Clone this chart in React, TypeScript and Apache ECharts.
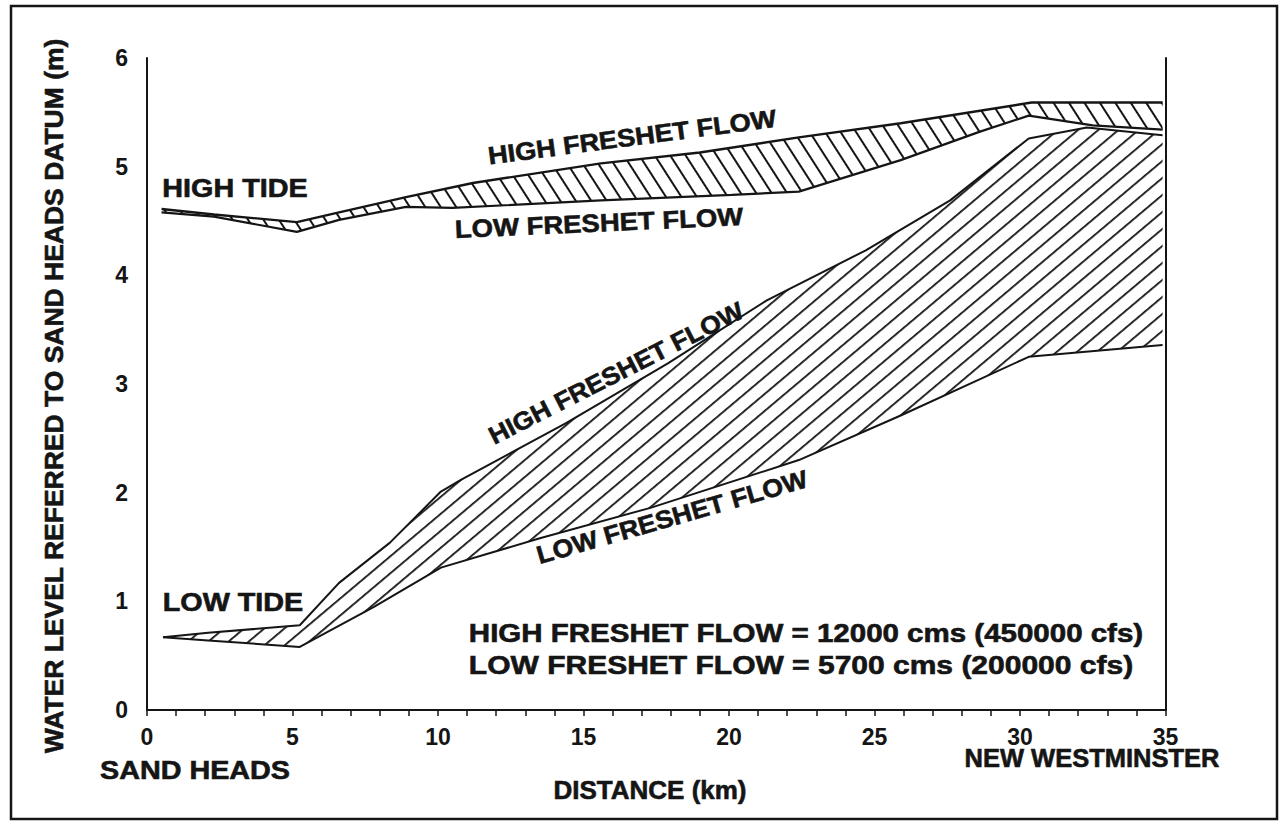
import React, { useEffect, useRef } from 'react';
import * as echarts from 'echarts';

// Distance (km) and water level (m)
const highTideHighFreshetKm = [0.5, 2.3, 5.15, 6.6, 8.9, 11.2, 15.6, 19.0, 22.4, 25.9, 30.4, 34.9];
const highTideHighFreshetM = [4.61, 4.56, 4.49, 4.58, 4.72, 4.85, 5.03, 5.13, 5.27, 5.4, 5.59, 5.59];

const highTideLowFreshetKm = [0.5, 2.3, 5.15, 6.6, 8.9, 10.5, 15.6, 20.1, 22.4, 25.9, 28.6, 30.3, 32.5, 34.9];
const highTideLowFreshetM = [4.58, 4.54, 4.4, 4.51, 4.63, 4.62, 4.69, 4.74, 4.77, 5.06, 5.32, 5.47, 5.38, 5.34];

const lowTideHighFreshetKm = [0.55, 2.1, 5.25, 6.6, 8.35, 10.1, 10.8, 14.4, 17.9, 21.3, 24.7, 27.6, 30.3, 32.3, 34.9];
const lowTideHighFreshetM = [0.67, 0.71, 0.78, 1.17, 1.54, 2.01, 2.12, 2.64, 3.19, 3.77, 4.23, 4.69, 5.26, 5.36, 5.29];

const lowTideLowFreshetKm = [0.55, 2.1, 5.25, 7.8, 10.1, 13.5, 17.3, 22.4, 25.9, 30.3, 34.9];
const lowTideLowFreshetM = [0.67, 0.64, 0.58, 0.95, 1.31, 1.58, 1.86, 2.3, 2.71, 3.25, 3.36];

const xAxisMin = 0;
const xAxisMax = 35;
const xAxisStep = 5;
const yAxisMin = 0;
const yAxisMax = 6;
const yAxisStep = 1;

const yAxisTitle = 'WATER LEVEL REFERRED TO SAND HEADS DATUM (m)';
const xAxisTitle = 'DISTANCE (km)';
const notes = [
  'HIGH FRESHET FLOW = 12000 cms (450000 cfs)',
  'LOW FRESHET FLOW = 5700 cms (200000 cfs)',
];

const INK = '#151515';
const FONT = '"Liberation Sans", Arial, Helvetica, sans-serif';

function pairs(xs: number[], ys: number[]) {
  return xs.map((x, i) => [x, ys[i]]);
}

function stripePattern(thick: number, period: number, rotation: number) {
  const w = 8;
  const canvas = document.createElement('canvas');
  canvas.width = w;
  canvas.height = period;
  const ctx = canvas.getContext('2d')!;
  ctx.clearRect(0, 0, w, period);
  ctx.fillStyle = INK;
  ctx.fillRect(0, 0, w, thick);
  return {
    image: canvas,
    repeat: 'repeat',
    imageWidth: w,
    imageHeight: period,
    rotation,
  };
}

function bandSeries(
  upX: number[],
  upY: number[],
  loX: number[],
  loY: number[],
  pattern: any
) {
  return {
    type: 'custom',
    coordinateSystem: 'cartesian2d',
    data: [[upX[0], upY[0]]],
    silent: true,
    z: 2,
    renderItem: (_params: any, api: any) => {
      const top = upX.map((x, i) => api.coord([x, upY[i]]));
      const bottom = loX.map((x, i) => api.coord([x, loY[i]])).reverse();
      return {
        type: 'polygon',
        shape: { points: top.concat(bottom) },
        style: { fill: pattern, stroke: null },
      };
    },
  };
}

function lineSeries(xs: number[], ys: number[], width: number) {
  return {
    type: 'line',
    data: pairs(xs, ys),
    symbol: 'none',
    silent: true,
    z: 4,
    lineStyle: { color: INK, width },
  };
}

function txt(text: string, x: number, y: number, size: number, rotDeg: number, sx: number) {
  return {
    type: 'text',
    x,
    y,
    rotation: (rotDeg * Math.PI) / 180,
    scaleX: sx,
    z: 20,
    silent: true,
    style: {
      text,
      font: `bold ${size}px ${FONT}`,
      fill: INK,
      stroke: INK,
      lineWidth: 0.6,
      align: 'center',
      verticalAlign: 'middle',
    },
  };
}

export default function App() {
  const ref = useRef<HTMLDivElement>(null);

  useEffect(() => {
    if (!ref.current) return;
    const chart = echarts.init(ref.current, null, { renderer: 'svg' });
    const upperHatch = stripePattern(2, 13, 1.0);
    const lowerHatch = stripePattern(1.8, 13, -0.7);

    const option: any = {
      animation: false,
      backgroundColor: '#ffffff',
      grid: { left: 147, right: 115.5, top: 58, bottom: 121 },
      xAxis: {
        type: 'value',
        min: xAxisMin,
        max: xAxisMax,
        interval: xAxisStep,
        z: 10,
        axisLine: { show: true, onZero: false, lineStyle: { color: INK, width: 2 } },
        axisTick: { show: true, length: 6, lineStyle: { color: INK, width: 1.5 } },
        minorTick: { show: true, splitNumber: 5, length: 6, lineStyle: { color: INK, width: 1.5 } },
        splitLine: { show: false },
        axisLabel: { fontSize: 23, fontWeight: 'bold', color: INK, fontFamily: FONT, margin: 15 },
      },
      yAxis: [
        {
          type: 'value',
          min: yAxisMin,
          max: yAxisMax,
          interval: yAxisStep,
          z: 10,
          axisLine: { show: true, lineStyle: { color: INK, width: 2 } },
          axisTick: { show: false },
          splitLine: { show: false },
          axisLabel: {
            fontSize: 23,
            fontWeight: 'bold',
            color: INK,
            fontFamily: FONT,
            margin: 19,
            padding: [0, 0, 16, 0],
          },
        },
        {
          type: 'value',
          min: yAxisMin,
          max: yAxisMax,
          interval: yAxisStep,
          position: 'right',
          z: 10,
          axisLine: { show: true, lineStyle: { color: INK, width: 2 } },
          axisTick: { show: false },
          splitLine: { show: false },
          axisLabel: { show: false },
        },
      ],
      series: [
        bandSeries(highTideHighFreshetKm, highTideHighFreshetM, highTideLowFreshetKm, highTideLowFreshetM, upperHatch),
        bandSeries(lowTideHighFreshetKm, lowTideHighFreshetM, lowTideLowFreshetKm, lowTideLowFreshetM, lowerHatch),
        lineSeries(highTideHighFreshetKm, highTideHighFreshetM, 2.4),
        lineSeries(highTideLowFreshetKm, highTideLowFreshetM, 2.2),
        lineSeries(lowTideHighFreshetKm, lowTideHighFreshetM, 2),
        lineSeries(lowTideLowFreshetKm, lowTideLowFreshetM, 2),
      ],
      graphic: [
        {
          type: 'rect',
          z: 1,
          silent: true,
          shape: { x: 11, y: 6, width: 1266, height: 813 },
          style: { fill: 'none', stroke: INK, lineWidth: 2.5 },
        },
        txt(yAxisTitle, 54, 396, 25, 90, 1.06),
        txt(xAxisTitle, 650, 790, 25, 0, 1.04),
        txt('SAND HEADS', 195, 771, 25, 0, 1.15),
        txt('NEW WESTMINSTER', 1092, 758, 25, 0, 1.02),
        txt('HIGH TIDE', 235, 189, 25, 0, 1.15),
        txt('LOW TIDE', 233, 603, 25, 0, 1.15),
        txt('HIGH FRESHET FLOW', 632, 137, 25, 7.5, 1.09),
        txt('LOW FRESHET FLOW', 599, 223, 25, 2.6, 1.1),
        txt('HIGH FRESHET FLOW', 616, 373, 25, 27, 1.06),
        txt('LOW FRESHET FLOW', 672, 517, 25, 16, 1.07),
        txt(notes[0], 806, 633, 25, 0, 1.18),
        txt(notes[1], 801, 665, 25, 0, 1.2),
      ],
    };
    chart.setOption(option);
    return () => chart.dispose();
  }, []);

  return (
    <div
      ref={ref}
      style={{ position: 'fixed', left: 0, top: 0, width: 1281, height: 831, background: '#fff' }}
    />
  );
}
